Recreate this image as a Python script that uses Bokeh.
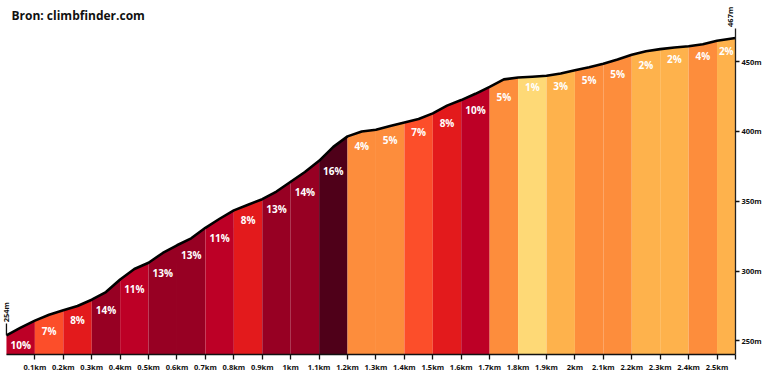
import math
import numpy as np
from bokeh.plotting import figure
from bokeh.models import Range1d, LinearAxis, FixedTicker, Label, ColumnDataSource, PrintfTickFormatter
from bokeh.core.properties import value
from bokeh.embed import file_html
from bokeh.resources import INLINE

# ---------------- data ----------------
title_text = "Bron: climbfinder.com"

dist_km = [0.0, 0.05, 0.1, 0.15, 0.2, 0.25, 0.3, 0.35, 0.4, 0.45, 0.5, 0.55, 0.6, 0.65,
           0.7, 0.75, 0.8, 0.85, 0.9, 0.95, 1.0, 1.05, 1.1, 1.15, 1.2, 1.25, 1.3, 1.35,
           1.4, 1.45, 1.5, 1.55, 1.6, 1.65, 1.7, 1.75, 1.8, 1.85, 1.9, 1.95, 2.0, 2.05,
           2.1, 2.15, 2.2, 2.25, 2.3, 2.35, 2.4, 2.45, 2.5, 2.565]
elev_m = [254, 259.5, 264.5, 268.7, 272, 275, 279.5, 285, 294, 301.5, 306, 313, 318.5, 323.5,
          331, 337.5, 343.5, 347.5, 351.5, 357, 364, 371, 379, 389, 396.5, 400, 401.2, 404,
          406.5, 409, 413, 418.5, 422.5, 427, 432, 437.3, 438.7, 439.2, 439.9, 441.5, 443.8, 446,
          448.5, 451.5, 455, 457.5, 459, 460.2, 461, 462.5, 465, 467]

seg_bounds_km = [0.0, 0.1, 0.2, 0.3, 0.4, 0.5, 0.6, 0.7, 0.8, 0.9, 1.0, 1.1, 1.2, 1.3,
                 1.4, 1.5, 1.6, 1.7, 1.8, 1.9, 2.0, 2.1, 2.2, 2.3, 2.4, 2.5, 2.565]
grade_pct = [10, 7, 8, 14, 11, 13, 13, 11, 8, 13, 14, 16, 4, 5, 7, 8, 10, 5, 1, 3, 5, 5, 2, 2, 4, 2]

x_ticks_km = [0.1, 0.2, 0.3, 0.4, 0.5, 0.6, 0.7, 0.8, 0.9, 1.0, 1.1, 1.2, 1.3, 1.4, 1.5,
              1.6, 1.7, 1.8, 1.9, 2.0, 2.1, 2.2, 2.3, 2.4, 2.5]
x_tick_labels = ["0.1km", "0.2km", "0.3km", "0.4km", "0.5km", "0.6km", "0.7km", "0.8km",
                 "0.9km", "1km", "1.1km", "1.2km", "1.3km", "1.4km", "1.5km", "1.6km",
                 "1.7km", "1.8km", "1.9km", "2km", "2.1km", "2.2km", "2.3km", "2.4km", "2.5km"]
y_ticks_m = [250, 300, 350, 400, 450]

# ---------------- style ----------------
def grade_color(g):
    if g <= 1:
        return "#FED976"
    if g <= 3:
        return "#FEB24C"
    if g <= 5:
        return "#FD8D3C"
    if g <= 7:
        return "#FC4E2A"
    if g <= 9:
        return "#E31A1C"
    if g <= 12:
        return "#BD0026"
    if g <= 15:
        return "#970023"
    return "#4F0019"

FONT = "Open Sans"
W, H = 764, 374
B_RIGHT, B_BOTTOM = 24, 17
frame_w, frame_h = W - B_RIGHT, H - B_BOTTOM
left_pad = 6.0                      # px between frame's left edge and the climb's start
span = dist_km[-1] - dist_km[0]
px_per_km = (frame_w - left_pad) / span
x0 = dist_km[0] - left_pad / px_per_km
x1 = dist_km[-1]
# vertical scale: 250 m at 343.3 px, 450 m at 61.7 px from top
px_per_m = (343.3 - 61.7) / 200.0
y1 = 450 + 61.7 / px_per_m
y0 = y1 - frame_h / px_per_m

p = figure(width=W, height=H, output_backend="svg", toolbar_location=None,
           x_range=Range1d(x0, x1), y_range=Range1d(y0, y1),
           x_axis_location=None, y_axis_location=None,
           min_border_left=0, min_border_top=0, min_border_right=B_RIGHT,
           min_border_bottom=B_BOTTOM)
p.outline_line_color = None
p.xgrid.visible = False
p.ygrid.visible = False
p.background_fill_color = "white"
p.border_fill_color = "white"

d = np.array(dist_km, dtype=float)
e = np.array(elev_m, dtype=float)

# coloured segments
lab_x, lab_y, lab_t = [], [], []
for i, g in enumerate(grade_pct):
    a, b = seg_bounds_km[i], seg_bounds_km[i + 1]
    mask = (d >= a - 1e-9) & (d <= b + 1e-9)
    sx = list(d[mask])
    sy = list(e[mask])
    if sx[0] > a + 1e-9:
        sx.insert(0, a); sy.insert(0, float(np.interp(a, d, e)))
    if sx[-1] < b - 1e-9:
        sx.append(b); sy.append(float(np.interp(b, d, e)))
    p.varea(x=sx, y1=[0] * len(sx), y2=sy, fill_color=grade_color(g), fill_alpha=1.0)
    lab_x.append((a + b) / 2)
    lab_y.append(float(np.interp(a, d, e)))
    lab_t.append(f"{g}%")

p.line(dist_km, elev_m, line_color="black", line_width=2.6, line_join="round")

src = ColumnDataSource(dict(x=lab_x, y=lab_y, t=lab_t))
p.text(x="x", y="y", text="t", source=src, text_color="white",
       text_font=value(FONT), text_font_style="bold", text_font_size="10px",
       text_align="center", text_baseline="middle", y_offset=10)

# axes
xa = LinearAxis(ticker=FixedTicker(ticks=x_ticks_km + [dist_km[-1]]),
                bounds=(dist_km[0], dist_km[-1]))
ov = {t: l for t, l in zip(x_ticks_km, x_tick_labels)}
ov[dist_km[-1]] = ""
xa.major_label_overrides = ov
xa.axis_line_color = "#111111"
xa.axis_line_width = 1.3
xa.major_tick_line_color = "#111111"
xa.major_tick_line_width = 1.3
xa.major_tick_out = 5
xa.major_tick_in = 0
xa.minor_tick_line_color = None
xa.major_label_standoff = 2
xa.major_label_text_font = FONT
xa.major_label_text_font_style = "bold"
xa.major_label_text_font_size = "7.5px"
xa.major_label_text_color = "#111111"
p.add_layout(xa, "below")

start_gap, end_gap = 12, 10
ya = LinearAxis(ticker=FixedTicker(ticks=y_ticks_m),
                bounds=(y0, elev_m[-1] + end_gap / px_per_m),
                formatter=PrintfTickFormatter(format="%dm"))
ya.axis_line_color = "#222222"
ya.axis_line_width = 1.3
ya.major_tick_line_color = "#111111"
ya.major_tick_line_width = 1.3
ya.major_tick_out = 4
ya.major_tick_in = 0
ya.minor_tick_line_color = None
ya.major_label_standoff = 2
ya.major_label_text_font = FONT
ya.major_label_text_font_style = "bold"
ya.major_label_text_font_size = "7.5px"
ya.major_label_text_color = "#111111"
p.add_layout(ya, "right")

# start / end elevation markers
p.segment(x0=[dist_km[0]], y0=[elev_m[0]], x1=[dist_km[0]],
          y1=[elev_m[0] + start_gap / px_per_m],
          line_color="#111111", line_width=1.3)
p.add_layout(Label(x=dist_km[0], y=elev_m[0], text=f"{int(round(elev_m[0]))}m",
                   angle=math.pi / 2, text_align="left", text_baseline="middle",
                   y_offset=start_gap + 1, text_font=FONT, text_font_style="bold",
                   text_font_size="7.5px", text_color="#111111"))
p.add_layout(Label(x=dist_km[-1], y=elev_m[-1], text=f"{int(round(elev_m[-1]))}m",
                   angle=math.pi / 2, text_align="left", text_baseline="middle",
                   x_offset=-5.5, y_offset=end_gap + 1, text_font=FONT,
                   text_font_style="bold", text_font_size="7.5px", text_color="#111111"))

# title
p.add_layout(Label(x=x0, y=y1, x_offset=11, y_offset=-6, text=title_text,
                   text_align="left", text_baseline="top", text_font=FONT,
                   text_font_style="bold", text_font_size="12px", text_color="#111111"))

open("out.html", "w").write(file_html(p, INLINE))
